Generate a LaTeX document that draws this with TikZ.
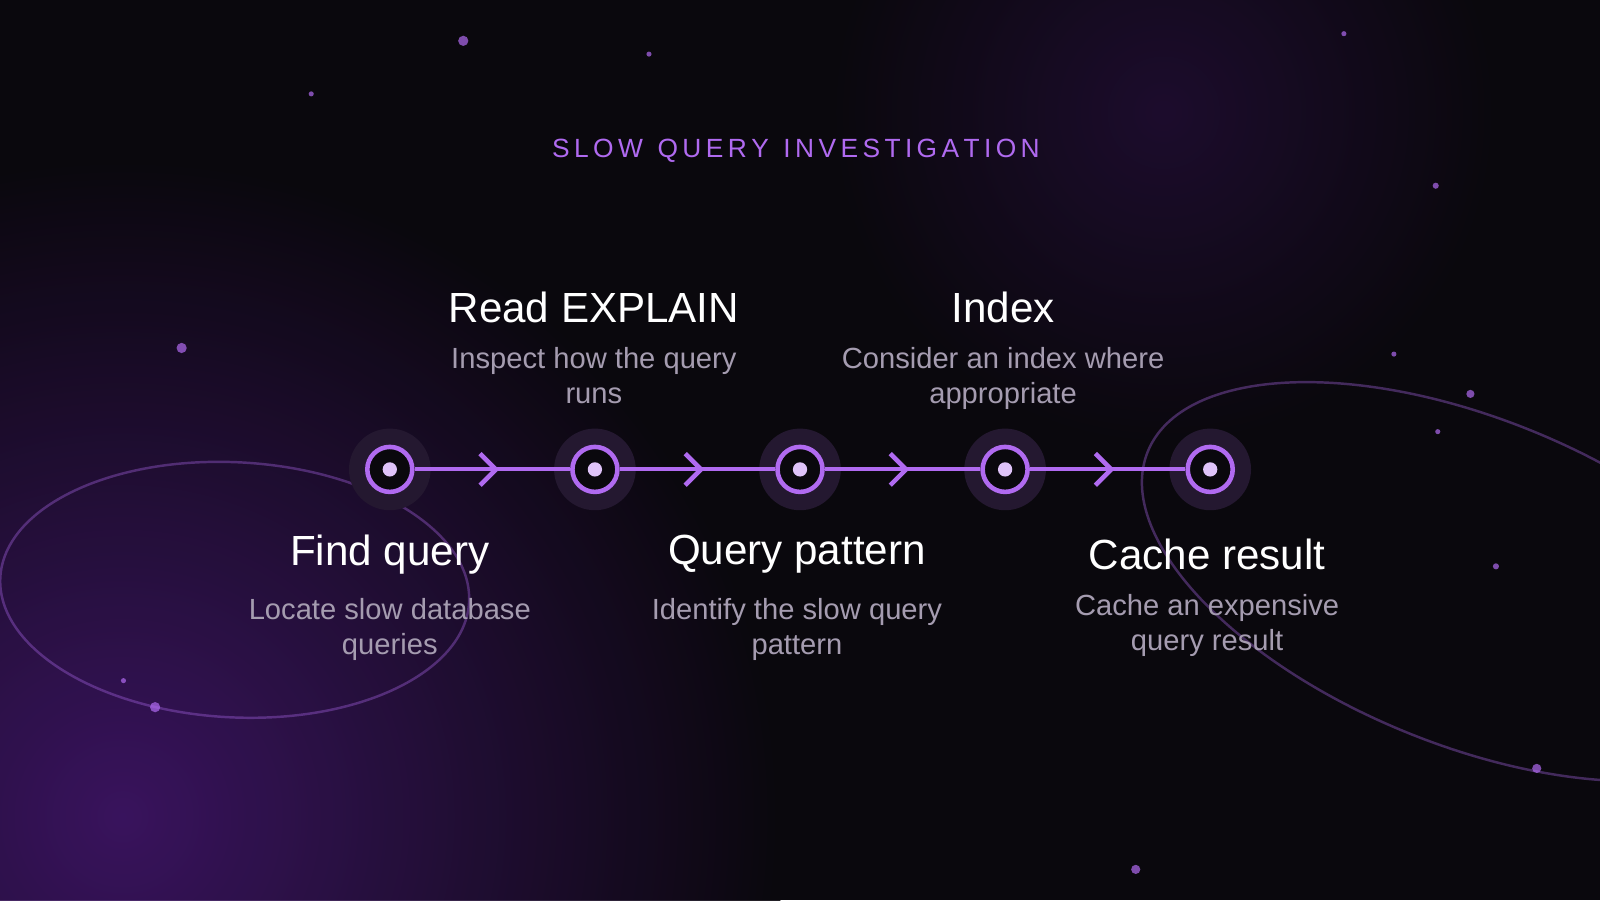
\documentclass[tikz,border=0pt]{standalone}
\usepackage{fontspec}
\setmainfont{Liberation Sans}
\usetikzlibrary{arrows.meta}
\definecolor{bgdark}{HTML}{0A080D}
\definecolor{glow}{HTML}{3E1566}
\definecolor{violet}{HTML}{B06AF0}
\definecolor{halo}{HTML}{241830}
\definecolor{subtxt}{HTML}{A59CB0}
\begin{document}
\begin{tikzpicture}[x={(0.010204cm,0)},y={(0,-0.010204cm)},
  stage/.style={circle,draw=violet,line width=1.3pt,fill=bgdark,minimum size=0.45cm,inner sep=0pt},
  head/.style={text=white,font=\fontsize{12}{14}\selectfont},
  desc/.style={text=subtxt,font=\fontsize{8.3}{10}\selectfont,align=center},
  spark/.style={fill=violet,opacity=0.7}]
      \def\halosize{40}

      % background
      \fill[bgdark] (0,0) rectangle (1568,882);
      \useasboundingbox (0,0) rectangle (1568,882);
      \begin{scope}
        \clip (0,0) rectangle (1568,882);
        \shade[inner color=glow,outer color=bgdark,opacity=0.9] (120,800) circle (650);
        \shade[inner color=glow!60!bgdark,outer color=bgdark,opacity=0.6] (1140,110) circle (330);
        \draw[violet,opacity=0.35,line width=0.7pt,rotate around={-3:(230,578)}] (230,578) ellipse (230 and 125);
        \draw[violet,opacity=0.35,line width=0.7pt,rotate around={-22:(1440,570)}] (1440,570) ellipse (340 and 160);
      \end{scope}

      % sparkles
      \foreach \px/\py/\r in {454/40/5, 636/53/2.5, 305/92/2.5, 178/341/5, 1317/33/2.5, 1407/182/3, 1366/347/2.5,
                              1441/386/4, 1409/423/2.5, 1466/555/3, 1506/753/4.5, 1113/852/4.5, 152/693/5, 121/667/2.5}
        \fill[spark] (\px,\py) circle (\r);

      \node[text=violet,font=\fontsize{7.5}{9}\selectfont] (title) at (780,148)
        {S\,L\,O\,W\ \ Q\,U\,E\,R\,Y\ \ I\,N\,V\,E\,S\,T\,I\,G\,A\,T\,I\,O\,N};

      % timeline
      \foreach \n/\px in {1/382,2/583,3/784,4/985,5/1186} {
        \fill[halo] (\px,460) circle (\halosize);
        \node[stage] (s\n) at (\px,460) {};
        \fill[violet!40!white] (\px,460) circle (7);
      }
      \foreach \a/\b in {1/2,2/3,3/4,4/5} {
        \draw[violet,line width=1.1pt] (s\a) -- (s\b);
        \path (s\a) -- (s\b) coordinate[midway] (m\a);
        \draw[violet,line width=1.3pt] ([xshift=-3.5pt,yshift=4.5pt]m\a) -- ([xshift=1pt]m\a) -- ([xshift=-3.5pt,yshift=-4.5pt]m\a);
      }

      % labels below
      \node[head] (h1) at (382,543) {Find query};
      \node[desc,below=0pt] (d1) at (h1.south) {Locate slow database\\queries};
      \node[head] (h3) at (781,543) {Query pattern};
      \node[desc,below=0pt] (d3) at (h3.south) {Identify the slow query\\pattern};
      \node[head] (h5) at (1183,543) {Cache result};
      \node[desc,below=0pt] (d5) at (h5.south) {Cache an expensive\\query result};

      % labels above
      \node[head] (h2) at (582,301) {Read EXPLAIN};
      \node[desc,below=0pt] (d2) at (h2.south) {Inspect how the query\\runs};
      \node[head] (h4) at (983,301) {Index};
      \node[desc,below=0pt] (d4) at (h4.south) {Consider an index where\\appropriate};

    \end{tikzpicture}
\end{document}
